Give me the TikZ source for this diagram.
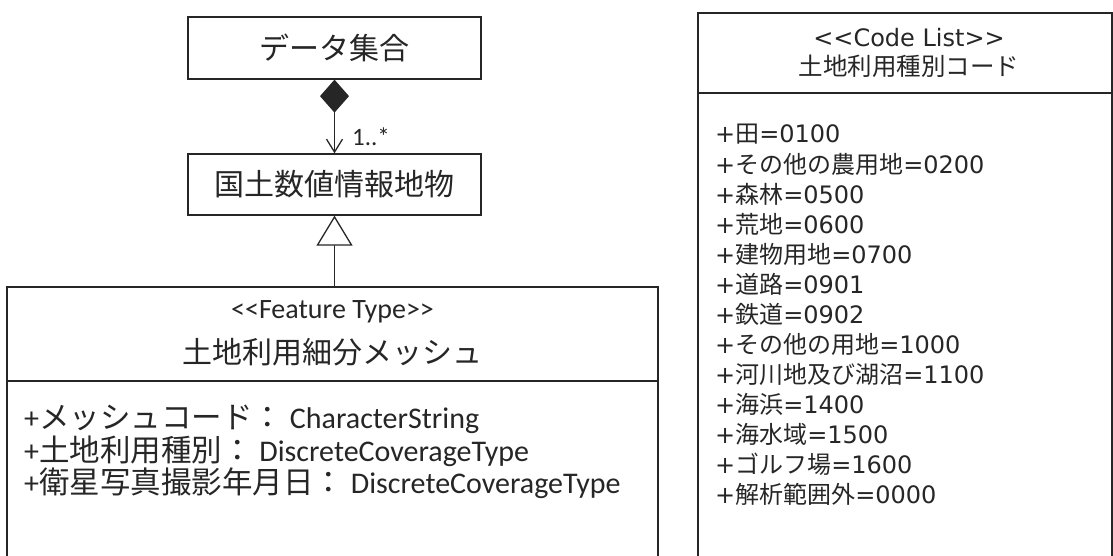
\documentclass[tikz,border=0pt]{standalone}
\usepackage{fontspec}
\setmainfont{Carlito}
\newfontfamily\jp{Noto Sans CJK JP}
\newfontfamily\dv{DejaVu Sans}
\usetikzlibrary{arrows.meta}
\newcommand\stereo[1]{<\kern0pt<#1>\kern0pt>}
\begin{document}
\begin{tikzpicture}[x=1pt, y=-1pt,
    every node/.style={text=black!85, inner sep=0pt},
    box/.style={draw=black!85, line width=1.3pt, rectangle},
    big/.style={font=\jp\fontsize{30}{36}\selectfont},
    attr/.style={anchor=west, font=\fontsize{30}{34}\selectfont},
    item/.style={anchor=west, font=\dv\fontsize{24}{28}\selectfont},
    link/.style={draw=black!85, line width=1.3pt}]
    \useasboundingbox (0,0) rectangle (1113,556);
    \clip (0,0) rectangle (1113,556);

    % upper classes
    \node[box, big, minimum width=293pt, minimum height=62pt] (set) at (334.5,48) {データ集合};
    \node[box, big, minimum width=293pt, minimum height=61pt] (feat) at (334.5,184.5) {国土数値情報地物};

    % feature type
    \node[box, minimum width=651pt, minimum height=94pt] (meshhead) at (332.5,334) {};
    \node[box, minimum width=651pt, minimum height=240pt] (meshbody) at (332.5,501) {};
    \node[font=\fontsize{28}{32}\selectfont] (meshst) at (332.5,312) {\stereo{Feature Type}};
    \node[big] (meshname) at (332.5,352) {土地利用細分メッシュ};
    \foreach \a/\t [count=\i] in {メッシュコード/CharacterString,
        土地利用種別/DiscreteCoverageType,
        衛星写真撮影年月日/DiscreteCoverageType} {
      \node[attr] (attr\i) at (24,{419+32*(\i-1)}) {+{\jp\fontsize{30.5}{34}\selectfont\a：} \t};
    }

    % code list
    \node[box, minimum width=414pt, minimum height=80pt] (codehead) at (905,53) {};
    \node[box, minimum width=414pt, minimum height=527pt] (codebody) at (905,356.5) {};
    \node[font=\dv\fontsize{24}{28}\selectfont] (codest) at (909,38) {\stereo{Code List}};
    \node[font=\jp\fontsize{24.5}{28}\selectfont] (codename) at (909,66) {土地利用種別コード};
    \foreach \n/\c [count=\i] in {田/0100, その他の農用地/0200, 森林/0500, 荒地/0600,
        建物用地/0700, 道路/0901, 鉄道/0902, その他の用地/1000, 河川地及び湖沼/1100,
        海浜/1400, 海水域/1500, ゴルフ場/1600, 解析範囲外/0000} {
      \node[item] (item\i) at (715,{134+30*(\i-1)}) {+{\jp\fontsize{24}{28}\selectfont\n}=\c};
    }

    % links
    \draw[link, {Diamond[length=33pt,width=29pt]}-{Straight Barb[length=13pt,width=16pt]}] (set) -- (feat);
    \node[anchor=west, font=\fontsize{25}{28}\selectfont] (mult) at (352,137) {1..*};
    \draw[link, -{Triangle[open, fill=white, length=30pt, width=36pt]}] (meshhead.north -| feat.south) -- (feat.south);
  \end{tikzpicture}
\end{document}
